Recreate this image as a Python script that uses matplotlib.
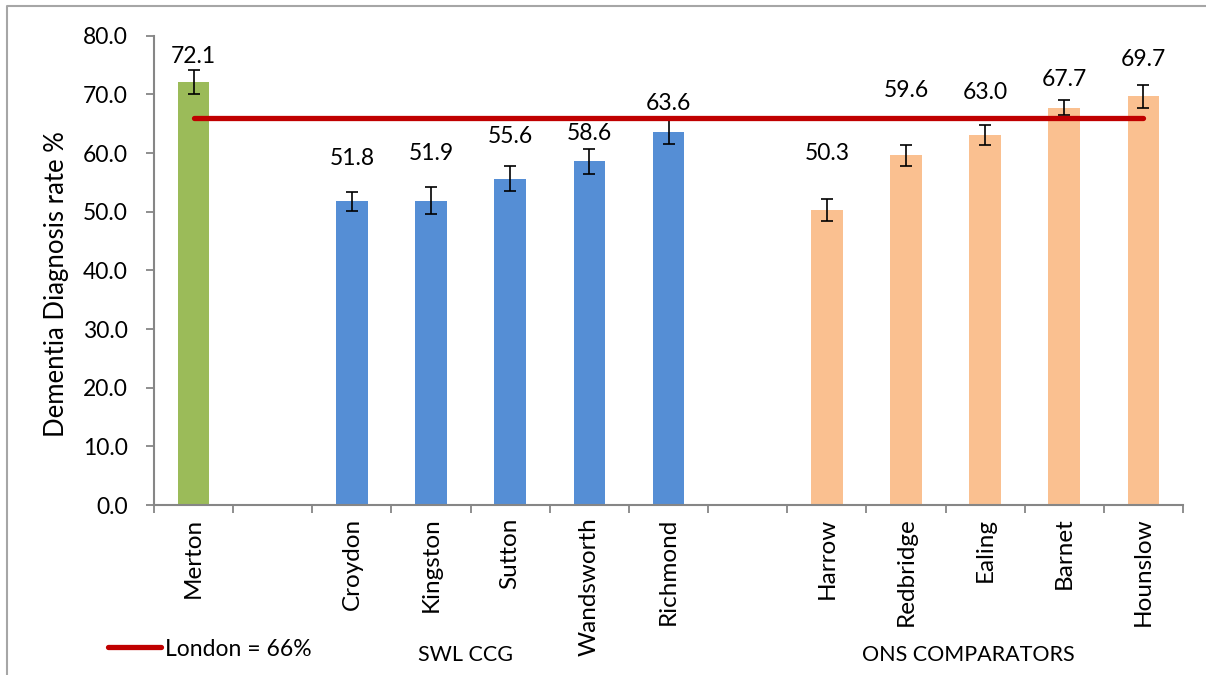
import numpy as np
import matplotlib
matplotlib.use("Agg")
import matplotlib.pyplot as plt
from matplotlib.lines import Line2D

# data
merton_names = ["Merton"]
merton_rate = [72.1]
merton_err = [2.0]

swl_names = ["Croydon", "Kingston", "Sutton", "Wandsworth", "Richmond"]
swl_rate = [51.8, 51.9, 55.6, 58.6, 63.6]
swl_err = [1.6, 2.3, 2.15, 2.1, 2.1]

ons_names = ["Harrow", "Redbridge", "Ealing", "Barnet", "Hounslow"]
ons_rate = [50.3, 59.6, 63.0, 67.7, 69.7]
ons_err = [1.85, 1.85, 1.7, 1.3, 1.95]

london_rate = 66.0

# where the value labels sit (hand placed in the original)
label_pos = [76.5, 59.0, 59.9, 62.8, 63.4, 68.5, 60.0, 70.7, 70.4, 72.6, 76.0]

plt.rcParams["font.family"] = ["Lato", "DejaVu Sans"]

#Build slot positions, one empty slot between groups
names = merton_names + swl_names + ons_names
rates = merton_rate + swl_rate + ons_rate
errs = merton_err + swl_err + ons_err
pos = list(range(0, 1)) + list(range(2, 7)) + list(range(8, 13))
colors = ["#9BBB59"] * len(merton_names) + ["#558ED5"] * len(swl_names) + ["#FAC090"] * len(ons_names)

fig = plt.figure(figsize=(12.06, 6.75), dpi=100)
ax = fig.add_axes([154 / 1206, 1 - 505 / 675, (1183 - 154) / 1206, (505 - 35.7) / 675])

ax.bar(pos, rates, width=0.4, color=colors, zorder=2)
ax.errorbar(pos, rates, yerr=errs, fmt="none", ecolor="black", elinewidth=1.2,
            capsize=4, capthick=1.2, zorder=3)

#London average line
ax.plot([pos[0], pos[-1]], [london_rate, london_rate], color="#C00000", lw=3.8,
        solid_capstyle="round", zorder=4)

#Value labels
for x, r, ly in zip(pos, rates, label_pos):
    ax.text(x, ly, f"{r:.1f}", ha="center", va="center", fontsize=16.5)

#Axes
ax.set_xlim(-0.5, 12.5)
ax.set_ylim(0, 80)
ax.set_yticks(np.arange(0, 81, 10))
ax.set_yticklabels([f"{v:.1f}" for v in np.arange(0, 81, 10)])
ax.set_xticks(pos)
ax.set_xticklabels(names, rotation=90)
ax.set_xticks(np.arange(-0.5, 12.6, 1), minor=True)
ax.tick_params(axis="x", which="major", length=0, pad=9, labelsize=17.5)
ax.tick_params(axis="x", which="minor", length=6, color="#868686", width=1.3)
ax.tick_params(axis="y", length=6, color="#868686", width=1.3, pad=13, labelsize=16.5)
for s in ["top", "right"]:
    ax.spines[s].set_visible(False)
for s in ["left", "bottom"]:
    ax.spines[s].set_color("#868686")
    ax.spines[s].set_linewidth(1.5)
ax.set_ylabel("Dementia Diagnosis rate %", fontsize=18.5)
ax.yaxis.set_label_coords(-0.0825, 0.47)

#Group labels
fig.text(466 / 1206, 1 - 655 / 675, "SWL CCG", ha="center", va="center", fontsize=15.5)
fig.text(968 / 1206, 1 - 655 / 675, "ONS COMPARATORS", ha="center", va="center", fontsize=15.5)

#Legend
handle = Line2D([], [], color="#C00000", lw=3.8, solid_capstyle="round")
fig.legend([handle], ["London = 66%"], loc="center left",
           bbox_to_anchor=(108 / 1206, 1 - 649 / 675), frameon=False, fontsize=16.5,
           handlelength=2.3, handletextpad=0.2, borderpad=0, borderaxespad=0)

#Outer frame (left and top edges visible)
fig.add_artist(Line2D([7 / 1206, 7 / 1206, 1.0], [0, 1 - 6 / 675, 1 - 6 / 675],
                      transform=fig.transFigure, color="#A6A6A6", lw=1.5))

fig.savefig("out.png", dpi=100)
